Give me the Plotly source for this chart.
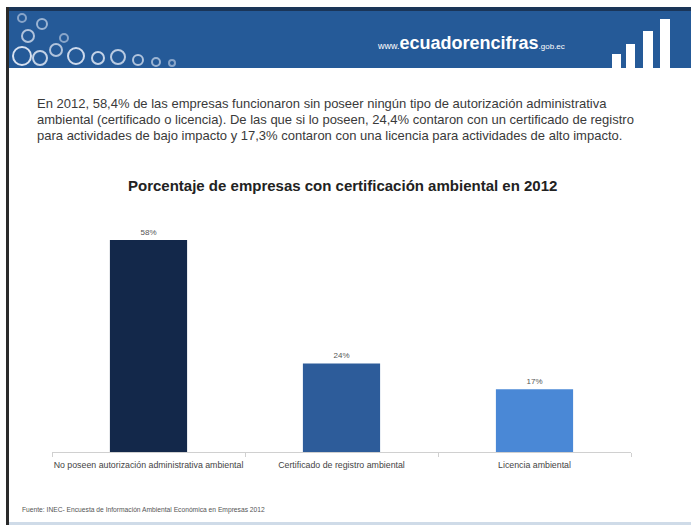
import plotly.graph_objects as go

categories = ["No poseen autorización administrativa ambiental",
              "Certificado de registro ambiental",
              "Licencia ambiental"]
values = [58.4, 24.4, 17.3]
value_labels = ["58%", "24%", "17%"]
bar_colors = ["#13284a", "#2d5c9a", "#4a88d6"]

title_text = "Porcentaje de empresas con certificación ambiental en 2012"
paragraph_lines = [
    "En 2012, 58,4% de las empresas funcionaron sin poseer ningún tipo de autorización administrativa",
    "ambiental (certificado o licencia). De las que si lo poseen, 24,4% contaron con un certificado de registro",
    "para actividades de bajo impacto y 17,3% contaron con una licencia para actividades de alto impacto.",
]
source_text = "Fuente: INEC- Encuesta de Información Ambiental Económica en Empresas 2012"

W, H = 691, 525
def px(x):
    return x / W
def py(y):
    return 1 - y / H

fig = go.Figure()
fig.add_trace(go.Bar(
    x=categories, y=values, marker=dict(color=bar_colors, line=dict(width=0)),
    width=0.4, text=value_labels, textposition="outside",
    textfont=dict(size=8, color="#555555", family="Liberation Sans"),
    cliponaxis=False, hoverinfo="skip"))

fig.update_layout(
    width=W, height=H, margin=dict(l=0, r=0, t=0, b=0, autoexpand=False),
    paper_bgcolor="white", plot_bgcolor="white", showlegend=False,
    font=dict(family="Liberation Sans", color="#333333"),
    xaxis=dict(domain=[px(52), px(631)], range=[-0.5, 2.5], showgrid=False,
               showline=True, linecolor="#d0d0d0", linewidth=1,
               ticks="outside", tickson="boundaries", ticklen=4, tickcolor="#d0d0d0",
               tickangle=0, automargin=False, ticklabelstandoff=4,
               tickfont=dict(size=8.8, color="#444444"), fixedrange=True),
    yaxis=dict(domain=[py(452), py(230.6)], range=[0, 61], visible=False,
               automargin=False, fixedrange=True),
)

shapes = []
# header band
shapes.append(dict(type="rect", xref="paper", yref="paper", x0=px(7), x1=1, y0=py(68), y1=py(7),
                   fillcolor="#255a98", line=dict(width=0), layer="below"))
shapes.append(dict(type="rect", xref="paper", yref="paper", x0=px(7), x1=1, y0=py(11), y1=py(7),
                   fillcolor="#1a3558", line=dict(width=0), layer="below"))
# left border
shapes.append(dict(type="rect", xref="paper", yref="paper", x0=px(6), x1=px(9), y0=0, y1=py(7),
                   fillcolor="#2a2a2a", line=dict(width=0)))
# bottom line
shapes.append(dict(type="rect", xref="paper", yref="paper", x0=px(9), x1=1, y0=0, y1=py(522),
                   fillcolor="#cfdbe8", line=dict(width=0)))
# header bar icon
for x0, x1, top in [(612, 621, 54), (626, 635, 44), (643, 653, 31), (660, 670, 19)]:
    shapes.append(dict(type="rect", xref="paper", yref="paper", x0=px(x0), x1=px(x1),
                       y0=py(68), y1=py(top), fillcolor="white", line=dict(width=0)))
# decorative swirl logo
for cx, cy, r, op in [(22, 56, 9, 0.9), (40, 58, 7, 0.8), (56, 50, 6, 0.7), (76, 56, 8, 0.85),
                      (98, 58, 6, 0.8), (118, 57, 7, 0.75), (138, 60, 5, 0.7), (156, 62, 4, 0.6),
                      (172, 63, 3, 0.5), (28, 36, 6, 0.7), (42, 24, 5, 0.6), (22, 18, 4, 0.5),
                      (64, 38, 4, 0.5)]:
    shapes.append(dict(type="circle", xref="paper", yref="paper",
                       x0=px(cx - r), x1=px(cx + r), y0=py(cy + r), y1=py(cy - r),
                       line=dict(color="rgba(235,240,250,%.2f)" % op, width=2)))
fig.update_layout(shapes=shapes)

ann = []
ann.append(dict(text="<span style='font-size:9px'>www.</span><b>ecuadorencifras</b><span style='font-size:8px'>.gob.ec</span>",
                x=px(375), y=py(43), xref="paper", yref="paper", xanchor="left", yanchor="middle",
                showarrow=False, font=dict(size=18, color="white", family="Liberation Sans")))
for i, line in enumerate(paragraph_lines):
    ann.append(dict(text=line, x=px(35), y=py(103 + 16 * i), xref="paper", yref="paper",
                    xanchor="left", yanchor="middle", showarrow=False,
                    font=dict(size=13, color="#3a3a3a", family="Liberation Sans")))
ann.append(dict(text="<b>" + title_text + "</b>", x=px(342), y=py(185), xref="paper", yref="paper",
                xanchor="center", yanchor="middle", showarrow=False,
                font=dict(size=15, color="#222222", family="Liberation Sans")))
ann.append(dict(text=source_text, x=px(20), y=py(510), xref="paper", yref="paper",
                xanchor="left", yanchor="middle", showarrow=False,
                font=dict(size=6.7, color="#555555", family="Liberation Sans")))
fig.update_layout(annotations=ann)

fig.write_html("out.html", config={"displayModeBar": False},
               post_script="document.body.style.margin='0';document.body.style.padding='0';")
